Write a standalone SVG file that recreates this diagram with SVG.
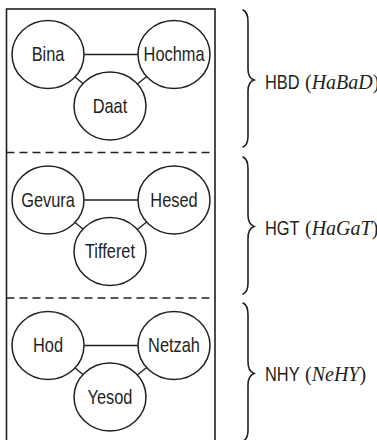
<svg xmlns="http://www.w3.org/2000/svg" width="377" height="440" viewBox="0 0 377 440">
  <style>
    .frame { fill: none; stroke: #231f20; stroke-width: 1.6; }
    .sep { stroke: #231f20; stroke-width: 1.5; stroke-dasharray: 8 5; }
    .node ellipse { fill: #ffffff; stroke: #231f20; stroke-width: 1.5; }
    .edge { stroke: #231f20; stroke-width: 1.4; }
    .brace { fill: none; stroke: #231f20; stroke-width: 1.6; stroke-linecap: round; }
    .lbl { font-family: "Liberation Sans", Arial, Helvetica, sans-serif; font-size: 20px; fill: #231f20;
           text-anchor: middle; transform-box: fill-box; transform-origin: center; transform: scaleX(0.82); }
    .grp { font-family: "Liberation Sans", Arial, Helvetica, sans-serif; font-size: 20px; fill: #231f20;
           transform-box: fill-box; transform-origin: 0 50%; transform: scaleX(0.82); }
    .heb { font-family: "Liberation Serif", "Times New Roman", serif; font-size: 20px; fill: #231f20; }
    .heb .it { font-style: italic; }
  </style>

  <!-- outer frame (open at the bottom edge of the canvas) -->
  <rect class="frame" x="6.5" y="9" width="208.5" height="440"/>
  <line class="sep" x1="6.5" y1="152.5" x2="215" y2="152.5"/>
  <line class="sep" x1="6.5" y1="298" x2="215" y2="298"/>

  <!-- connectors -->
  <g id="connectors">
    <line class="edge" x1="48" y1="54.5" x2="174" y2="54.5"/>
    <line class="edge" x1="48" y1="54.5" x2="110" y2="106"/>
    <line class="edge" x1="174" y1="54.5" x2="110" y2="106"/>

    <line class="edge" x1="48" y1="200" x2="174" y2="200"/>
    <line class="edge" x1="48" y1="200" x2="110" y2="251.5"/>
    <line class="edge" x1="174" y1="200" x2="110" y2="251.5"/>

    <line class="edge" x1="48" y1="345.5" x2="174" y2="345.5"/>
    <line class="edge" x1="48" y1="345.5" x2="110" y2="397"/>
    <line class="edge" x1="174" y1="345.5" x2="110" y2="397"/>
  </g>

  <!-- upper triad -->
  <g id="bina" class="node"><ellipse cx="48" cy="54.5" rx="36" ry="34"/><text class="lbl" x="48" y="61.5">Bina</text></g>
  <g id="hochma" class="node"><ellipse cx="174" cy="54.5" rx="36" ry="34"/><text class="lbl" x="174" y="61.5">Hochma</text></g>
  <g id="daat" class="node"><ellipse cx="110" cy="106" rx="36" ry="34"/><text class="lbl" x="110" y="113">Daat</text></g>

  <!-- middle triad -->
  <g id="gevura" class="node"><ellipse cx="48" cy="200" rx="36" ry="34"/><text class="lbl" x="48" y="207">Gevura</text></g>
  <g id="hesed" class="node"><ellipse cx="174" cy="200" rx="36" ry="34"/><text class="lbl" x="174" y="207">Hesed</text></g>
  <g id="tifferet" class="node"><ellipse cx="110" cy="251.5" rx="36" ry="34"/><text class="lbl" x="110" y="258.5">Tifferet</text></g>

  <!-- lower triad -->
  <g id="hod" class="node"><ellipse cx="48" cy="345.5" rx="36" ry="34"/><text class="lbl" x="48" y="352.5">Hod</text></g>
  <g id="netzah" class="node"><ellipse cx="174" cy="345.5" rx="36" ry="34"/><text class="lbl" x="174" y="352.5">Netzah</text></g>
  <g id="yesod" class="node"><ellipse cx="110" cy="397" rx="36" ry="34"/><text class="lbl" x="110" y="404">Yesod</text></g>

  <!-- braces and group names -->
  <g id="hbd">
    <path class="brace" d="M243,10 Q248,12 248,22 L248,69 Q248,78 254,80 Q248,82 248,91 L248,136 Q248,145 243,147"/>
    <text class="grp" x="265" y="89">HBD</text>
    <text class="heb" x="305" y="89">(<tspan class="it">HaBaD</tspan>)</text>
  </g>
  <g id="hgt">
    <path class="brace" d="M243,157 Q248,159 248,169 L248,215 Q248,224 254,226.5 Q248,229 248,238 L248,283 Q248,292 243,294"/>
    <text class="grp" x="265" y="235">HGT</text>
    <text class="heb" x="305" y="235">(<tspan class="it">HaGaT</tspan>)</text>
  </g>
  <g id="nhy">
    <path class="brace" d="M243,303 Q248,305 248,315 L248,362 Q248,371 254,373.5 Q248,376 248,385 L248,430 Q248,439 243,441"/>
    <text class="grp" x="265" y="381">NHY</text>
    <text class="heb" x="305" y="381">(<tspan class="it">NeHY</tspan>)</text>
  </g>
</svg>
